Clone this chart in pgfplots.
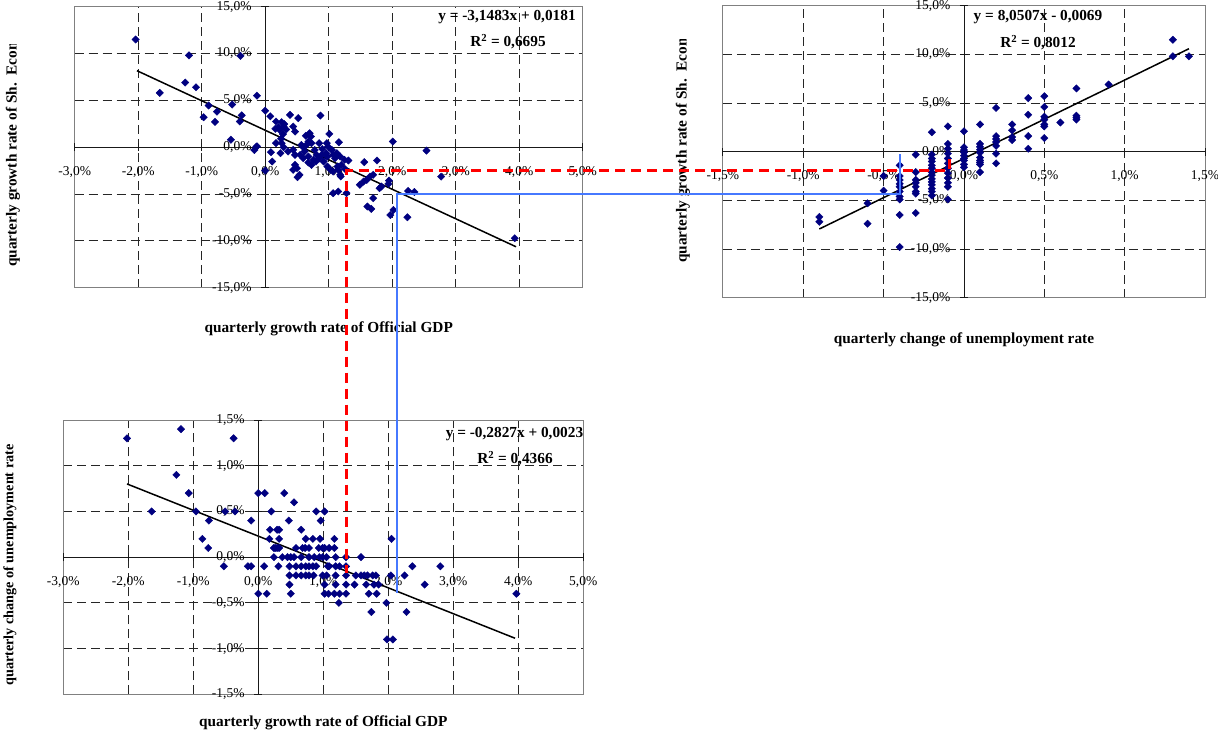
\documentclass[border=0pt]{standalone}
\usepackage{pgfplots}
\pgfplotsset{compat=1.18}
\usepackage{fontspec}
\setmainfont{Liberation Serif}
\definecolor{navy}{RGB}{0,0,128}
\definecolor{lblue}{RGB}{70,120,255}
\newcommand\tl{\fontsize{13.5}{16}\selectfont}
\newcommand\ttl{\bfseries\fontsize{15.3}{18}\selectfont}
\newcommand\xl[2]{\node[font=\tl, yshift=-24.7pt] at (axis cs:#1,0) {#2};}
\newcommand\yl[2]{\node[font=\tl, anchor=east, inner sep=0pt, xshift=-13.5pt] at (axis cs:0,#1) {#2};}
\newcommand\xt[1]{\draw[zax] ([yshift=-4pt]axis cs:#1,0) -- ([yshift=4pt]axis cs:#1,0);}
\newcommand\yt[1]{\draw[zax] ([xshift=-4pt]axis cs:0,#1) -- ([xshift=4pt]axis cs:0,#1);}
\tikzset{zax/.style={black!90, line width=0.9pt}}
\pgfplotsset{
  myax/.style={scale only axis, anchor=south west,
    xticklabels={}, yticklabels={},
    grid=major, major grid style={draw=black!85, line width=0.8pt, dash pattern=on 9pt off 5pt},
    axis line style={draw=gray, line width=1pt}, tick style={draw=none}, major tick length=0pt,
    clip=false},
  pts/.style={only marks, mark=square*, mark size=2.6pt, color=navy, mark options={fill=navy, draw=navy, rotate=45}},
  reg/.style={black, line width=1.5pt, no marks}
}
\begin{document}
\begin{tikzpicture}
\path[use as bounding box] (0,0) rectangle (1218pt,-733pt);

% ---------------- Plot 1 ----------------
\begin{axis}[myax, at={(74.7pt,-287.7pt)}, width=508pt, height=281pt,
  xmin=-3, xmax=5, ymin=-15, ymax=15,
  xtick={-2,-1,...,4}, ytick={-10,-5,...,10}]
\addplot[pts] table {
-2.04 11.5
-1.20 9.8
-0.39 9.75
-1.26 6.9
-1.09 6.4
-1.66 5.8
-0.13 5.5
-0.89 4.45
-0.76 3.8
-0.52 4.55
-0.97 3.2
-0.79 2.7
-0.37 3.4
-0.40 2.75
0.00 3.9
0.08 3.3
-0.54 0.8
-0.13 0.1
-0.17 -0.3
-0.14 0.05
0.00 -2.5
0.17 2.74
0.26 2.67
0.30 2.46
0.21 2.14
0.23 1.85
0.16 1.96
0.29 2.2
0.39 3.45
0.52 3.1
0.87 3.38
0.44 2.2
0.47 1.67
0.70 1.49
0.72 1.14
0.64 1.21
0.68 0.6
1.01 1.42
0.17 0.43
0.26 0.43
0.28 1.4
0.25 0.9
0.29 0.0
0.09 -0.53
0.11 -1.53
0.24 -0.64
0.36 -0.46
0.44 -0.28
0.47 -0.82
0.57 0.25
0.65 0.25
0.73 0.43
0.85 0.43
0.97 0.43
0.99 0.07
0.55 -0.82
0.60 -1.17
0.68 -1.0
0.76 -1.35
0.81 -0.82
0.89 -0.82
0.96 -0.64
0.98 -1.0
0.47 -1.89
0.50 -2.24
0.44 -2.42
0.54 -2.95
0.51 -3.2
0.68 -1.64
0.73 -1.89
0.80 -1.53
0.92 -1.53
0.98 -2.06
1.03 -2.42
1.07 -2.6
1.14 -2.06
1.18 -2.95
1.16 0.53
1.07 -0.82
1.10 -1.17
1.13 -0.64
1.18 -1.0
1.25 -1.35
1.31 -1.42
1.20 -1.89
1.26 -2.35
1.15 -2.42
1.19 -3.13
1.07 -4.91
1.15 -4.73
1.28 -4.9
1.56 -1.6
1.76 -1.42
2.01 0.6
1.49 -4.02
1.55 -3.67
1.60 -3.49
1.65 -3.13
1.70 -2.95
1.61 -6.33
1.67 -6.58
1.70 -5.44
1.80 -4.38
1.83 -4.2
2.54 -0.36
2.77 -3.14
1.95 -3.57
1.94 -3.92
2.25 -4.67
2.35 -4.78
2.02 -6.7
1.97 -7.24
2.24 -7.48
3.93 -9.72
0.33 1.9
0.60 0.0
0.78 -0.3
0.90 -0.2
1.05 -0.3
0.62 -0.45
0.85 -1.2
};
\addplot[reg] coordinates {(-2.02,8.17) (3.95,-10.63)};
\draw[zax] (axis cs:-3,0) -- (axis cs:5,0);
\draw[zax] (axis cs:0,-15) -- (axis cs:0,15);
\xt{-3}\xt{-2}\xt{-1}\xt{0}\xt{1}\xt{2}\xt{3}\xt{4}\xt{5}
\yt{-15}\yt{-10}\yt{-5}\yt{0}\yt{5}\yt{10}\yt{15}
\xl{-3}{-3,0\%}\xl{-2}{-2,0\%}\xl{-1}{-1,0\%}\xl{0}{0,0\%}\xl{1}{1,0\%}
\xl{2}{2,0\%}\xl{3}{3,0\%}\xl{4}{4,0\%}\xl{5}{5,0\%}
\yl{15}{15,0\%}\yl{10}{10,0\%}\yl{5}{5,0\%}\yl{0}{0,0\%}
\yl{-5}{-5,0\%}\yl{-10}{-10,0\%}\yl{-15}{-15,0\%}
\end{axis}

% ---------------- Plot 2 ----------------
\begin{axis}[myax, at={(722.9pt,-297.7pt)}, width=482.1pt, height=292pt,
  xmin=-1.5, xmax=1.5, ymin=-15, ymax=15,
  xtick={-1,-0.5,0,0.5,1}, ytick={-10,-5,...,10}]
\addplot[pts] table {
-0.9 -6.7
-0.9 -7.2
-0.6 -5.3
-0.6 -7.4
-0.5 -2.5
-0.5 -4.0
-0.4 -1.4
-0.4 -2.5
-0.4 -2.9
-0.4 -3.3
-0.4 -3.6
-0.4 -4.1
-0.4 -4.6
-0.4 -4.9
-0.4 -6.5
-0.4 -9.8
-0.3 -0.3
-0.3 -2.1
-0.3 -2.9
-0.3 -3.2
-0.3 -3.6
-0.3 -4.1
-0.3 -4.3
-0.3 -6.3
-0.2 2.0
-0.2 -0.3
-0.2 -0.7
-0.2 -1.0
-0.2 -1.4
-0.2 -1.7
-0.2 -2.1
-0.2 -2.4
-0.2 -2.8
-0.2 -3.1
-0.2 -3.4
-0.2 -3.8
-0.2 -4.1
-0.2 -4.5
-0.1 2.6
-0.1 0.8
-0.1 0.3
-0.1 -0.2
-0.1 -0.7
-0.1 -1.2
-0.1 -1.7
-0.1 -2.2
-0.1 -2.7
-0.1 -3.2
-0.1 -3.6
-0.1 -4.9
0 2.1
0 0.45
0 0.17
0 -0.07
0 -0.4
0 -0.7
0 -0.9
0 -1.3
0 -1.6
0.1 2.8
0.1 0.8
0.1 0.5
0.1 0.2
0.1 -0.1
0.1 -0.6
0.1 -0.9
0.1 -1.1
0.1 -1.3
0.1 -2.1
0.2 4.5
0.2 1.6
0.2 1.3
0.2 1.0
0.2 0.6
0.2 -0.2
0.2 -1.2
0.3 2.8
0.3 2.2
0.3 1.5
0.3 1.2
0.4 5.5
0.4 3.8
0.4 1.6
0.4 0.3
0.5 5.7
0.5 4.6
0.5 3.6
0.5 3.3
0.5 2.8
0.5 2.6
0.5 1.4
0.6 3.0
0.7 6.5
0.7 3.7
0.7 3.5
0.7 3.3
0.9 6.9
1.3 11.5
1.3 9.8
1.4 9.8
};
\addplot[reg] coordinates {(-0.9,-7.94) (1.4,10.58)};
\draw[zax] (axis cs:-1.5,0) -- (axis cs:1.5,0);
\draw[zax] (axis cs:0,-15) -- (axis cs:0,15);
\xt{-1.5}\xt{-1}\xt{-0.5}\xt{0}\xt{0.5}\xt{1}\xt{1.5}
\yt{-15}\yt{-10}\yt{-5}\yt{0}\yt{5}\yt{10}\yt{15}
\xl{-1.5}{-1,5\%}\xl{-1}{-1,0\%}\xl{-0.5}{-0,5\%}\xl{0}{0,0\%}
\xl{0.5}{0,5\%}\xl{1}{1,0\%}\xl{1.5}{1,5\%}
\yl{15}{15,0\%}\yl{10}{10,0\%}\yl{5}{5,0\%}\yl{0}{0,0\%}
\yl{-5}{-5,0\%}\yl{-10}{-10,0\%}\yl{-15}{-15,0\%}
\end{axis}

% ---------------- Plot 3 ----------------
\begin{axis}[myax, at={(63.3pt,-694.3pt)}, width=520pt, height=274.3pt,
  xmin=-3, xmax=5, ymin=-1.5, ymax=1.5,
  xtick={-2,-1,...,4}, ytick={-1,-0.5,0,0.5,1}]
\addplot[pts] table {
-2.02 1.3
-1.19 1.4
-0.38 1.3
-1.26 0.9
-1.07 0.7
-1.64 0.5
-0.96 0.5
-0.76 0.4
-0.51 0.5
-0.36 0.5
-0.11 0.4
-0.86 0.2
-0.77 0.1
-0.53 -0.1
-0.16 -0.1
-0.11 -0.1
0.00 -0.4
0.13 -0.4
0.00 0.7
0.10 0.7
0.40 0.7
0.55 0.6
0.20 0.5
0.47 0.4
0.89 0.5
1.02 0.5
0.96 0.4
0.18 0.3
0.29 0.3
0.32 0.3
0.66 0.3
0.17 0.2
0.32 0.2
0.73 0.2
0.84 0.2
0.95 0.2
1.17 0.2
0.24 0.1
0.26 0.1
0.29 0.1
0.32 0.1
0.58 0.1
0.68 0.1
0.72 0.1
0.78 0.1
0.93 0.1
0.99 0.1
1.02 0.1
1.09 0.1
1.17 0.1
0.24 0
0.37 0
0.45 0
0.50 0
0.55 0
0.66 0
0.78 0
0.86 0
0.94 0
0.99 0
1.05 0
1.19 0
1.35 0
1.58 0
0.09 -0.1
0.31 -0.1
0.48 -0.1
0.58 -0.1
0.66 -0.1
0.73 -0.1
0.78 -0.1
0.84 -0.1
0.89 -0.1
1.07 -0.1
1.09 -0.1
1.19 -0.1
1.25 -0.1
1.35 -0.1
2.37 -0.1
2.80 -0.1
0.48 -0.2
0.58 -0.2
0.66 -0.2
0.73 -0.2
0.78 -0.2
0.85 -0.2
0.99 -0.2
1.05 -0.2
1.19 -0.2
1.35 -0.2
1.50 -0.2
1.58 -0.2
1.63 -0.2
1.68 -0.2
1.76 -0.2
1.81 -0.2
2.04 -0.2
2.25 -0.2
0.48 -0.3
1.02 -0.3
1.19 -0.3
1.35 -0.3
1.48 -0.3
1.66 -0.3
1.78 -0.3
1.85 -0.3
2.56 -0.3
0.50 -0.4
1.02 -0.4
1.08 -0.4
1.17 -0.4
1.25 -0.4
1.35 -0.4
1.70 -0.4
1.82 -0.4
3.97 -0.4
1.24 -0.5
1.97 -0.5
1.74 -0.6
2.28 -0.6
1.98 -0.9
2.07 -0.9
2.05 0.2
};
\addplot[reg] coordinates {(-2.02,0.801) (3.95,-0.887)};
\draw[zax] (axis cs:-3,0) -- (axis cs:5,0);
\draw[zax] (axis cs:0,-1.5) -- (axis cs:0,1.5);
\xt{-3}\xt{-2}\xt{-1}\xt{0}\xt{1}\xt{2}\xt{3}\xt{4}\xt{5}
\yt{-1.5}\yt{-1}\yt{-0.5}\yt{0}\yt{0.5}\yt{1}\yt{1.5}
\xl{-3}{-3,0\%}\xl{-2}{-2,0\%}\xl{-1}{-1,0\%}\xl{0}{0,0\%}\xl{1}{1,0\%}
\xl{2}{2,0\%}\xl{3}{3,0\%}\xl{4}{4,0\%}\xl{5}{5,0\%}
\yl{1.5}{1,5\%}\yl{1}{1,0\%}\yl{0.5}{0,5\%}\yl{0}{0,0\%}
\yl{-0.5}{-0,5\%}\yl{-1}{-1,0\%}\yl{-1.5}{-1,5\%}
\end{axis}

% ---------------- titles and equations ----------------
\node[font=\ttl] at (328.7pt,-328.3pt) {quarterly growth rate of Official GDP};
\node[font=\ttl] at (964pt,-340pt) {quarterly change of unemployment rate};
\node[font=\ttl] at (323.3pt,-723pt) {quarterly growth rate of Official GDP};
\begin{scope}
\clip (0pt,-45pt) rectangle (40pt,-300pt);
\node[font=\ttl, rotate=90, anchor=west, inner sep=0pt] at (13pt,-267pt) {quarterly growth rate of Sh.~~Economy};
\end{scope}
\begin{scope}
\clip (665pt,-40pt) rectangle (705pt,-300pt);
\node[font=\ttl, rotate=90, anchor=west, inner sep=0pt] at (683pt,-263pt) {quarterly growth rate of Sh.~~Economy};
\end{scope}
\node[font=\bfseries\fontsize{14.2}{17}\selectfont, rotate=90] at (10pt,-565pt) {quarterly change of unemployment rate};

\node[font=\ttl] at (507pt,-17pt) {y = -3,1483x + 0,0181};
\node[font=\ttl] at (508pt,-42pt) {R\textsuperscript{2} = 0,6695};
\node[font=\ttl] at (1038pt,-17.3pt) {y = 8,0507x - 0,0069};
\node[font=\ttl] at (1038pt,-42.3pt) {R\textsuperscript{2} = 0,8012};
\node[font=\ttl] at (514.5pt,-434.3pt) {y = -0,2827x + 0,0023};
\node[font=\ttl] at (515pt,-459pt) {R\textsuperscript{2} = 0,4366};

% ---------------- connecting lines ----------------
\draw[red, line width=2.6pt, dash pattern=on 10pt off 6pt] (949.3pt,-159.3pt) -- (949.3pt,-170.5pt) -- (346.7pt,-170.5pt) -- (346.7pt,-572.5pt);
\draw[lblue, line width=2pt] (900pt,-154.3pt) -- (900pt,-193.5pt) -- (396.5pt,-193.5pt) -- (396.5pt,-593.3pt);
\end{tikzpicture}
\end{document}
